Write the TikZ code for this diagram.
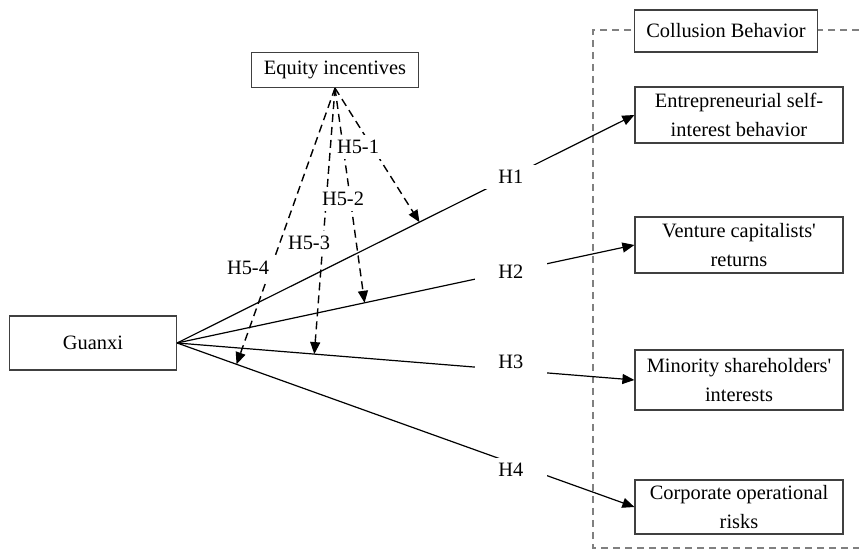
\documentclass[tikz,border=0pt]{standalone}
\usepackage{fontspec}
\setmainfont{Liberation Serif}
\usetikzlibrary{arrows.meta}

\tikzset{
  box/.style={draw=black!75, fill=white, line width=0.6pt, align=center, inner sep=1pt},
  hline/.style={line width=0.6pt, -{Triangle[length=6pt,width=5pt]}},
  mline/.style={line width=0.7pt, dash pattern=on 4pt off 2.5pt, -{Triangle[length=6pt,width=5pt]}},
  hlab/.style={fill=white, inner sep=0pt, minimum width=36pt, minimum height=12pt},
  mlab/.style={fill=white, inner xsep=1.5pt, inner ysep=0pt, minimum height=12pt},
}

\begin{document}
\begin{tikzpicture}[x=0.5pt, y=-0.5pt, font=\fontsize{10.2}{14.5}\selectfont]
        \useasboundingbox (0,0) rectangle (859,549);
        % frame of the collusion group
        \draw[gray, line width=0.6pt, dash pattern=on 3.5pt off 2.5pt] (859,30) -- (593,30) -- (593,548) -- (859,548);
        \node[box, minimum width=83.5pt, minimum height=27pt] (gx) at (93,343) {Guanxi};
        \node[box, minimum width=83.5pt, minimum height=17.5pt] (eq) at (335,70) {Equity incentives};
        \node[box, minimum width=91.5pt, minimum height=21pt] (cb) at (726,31) {Collusion Behavior};
        \node[box, minimum width=104pt, minimum height=28pt] (ent) at (739,115) {Entrepreneurial self-\\interest behavior};
        \node[box, minimum width=104pt, minimum height=28pt] (vc) at (739,245) {Venture capitalists\textquotesingle\\returns};
        \node[box, minimum width=104pt, minimum height=30pt] (ms) at (739,380) {Minority shareholders\textquotesingle\\interests};
        \node[box, minimum width=104pt, minimum height=27pt] (cr) at (739,507) {Corporate operational\\risks};
        % main paths
        \draw[hline] (gx.east) -- coordinate[pos=0.53] (t1) node[hlab, pos=0.73] (h1) {H1} (ent.west);
        \draw[hline] (gx.east) -- coordinate[pos=0.41] (t2) node[hlab, pos=0.73] (h2) {H2} (vc.west);
        \draw[hline] (gx.east) -- coordinate[pos=0.30] (t3) node[hlab, pos=0.73, yshift=4pt] (h3) {H3} (ms.west);
        \draw[hline] (gx.east) -- coordinate[pos=0.13] (t4) node[hlab, pos=0.73, yshift=-3.5pt] (h4) {H4} (cr.west);
        % moderating paths
        \draw[mline] (eq.south) -- (t1);
        \draw[mline] (eq.south) -- (t2);
        \draw[mline] (eq.south) -- (t3);
        \draw[mline] (eq.south) -- (t4);
        \node[mlab] (h51) at (358,147) {H5-1};
        \node[mlab] (h52) at (343,199) {H5-2};
        \node[mlab] (h53) at (309,243) {H5-3};
        \node[mlab, inner xsep=6pt] (h54) at (248,268) {H5-4};
\end{tikzpicture}
\end{document}
